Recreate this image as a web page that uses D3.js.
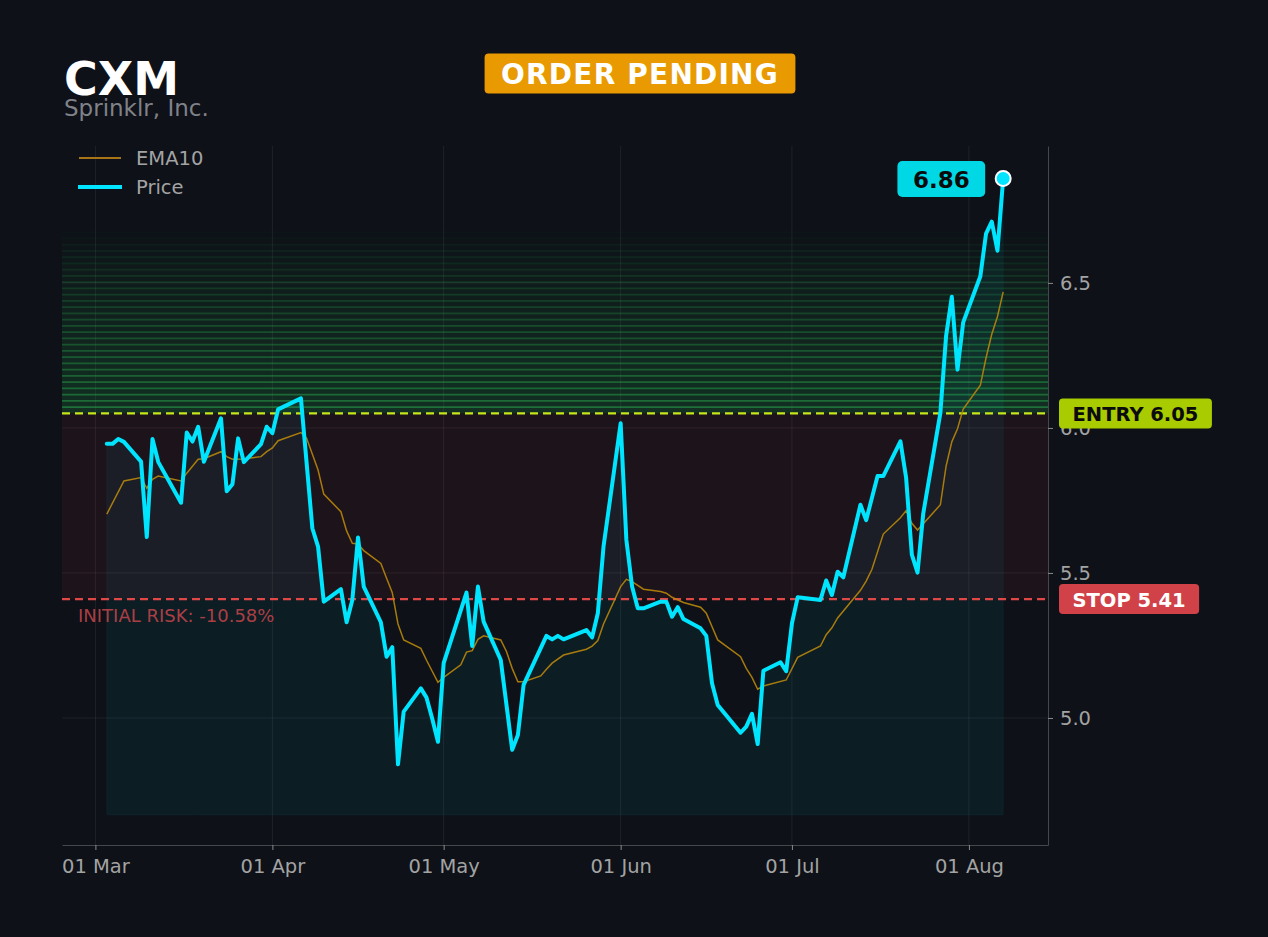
<!DOCTYPE html>
<html>
<head>
<meta charset="utf-8">
<script src="https://cdn.jsdelivr.net/npm/d3@7"></script>
<style>
  html, body { margin: 0; padding: 0; background: #0e1118; }
  svg { display: block; }
  text { font-family: "DejaVu Sans", sans-serif; }
</style>
</head>
<body>
<svg id="chart" width="1268" height="937"></svg>
<script>
// ---------- data ----------
const ticker = "CXM";
const companyName = "Sprinklr, Inc.";
const statusLabel = "ORDER PENDING";
const entryPrice = 6.05;
const stopPrice = 5.41;
const targetTop = 6.675;
const areaBase = 4.666;
const riskLabel = "INITIAL RISK: -10.58%";

const priceDates = ["2026-03-03","2026-03-04","2026-03-05","2026-03-06","2026-03-09","2026-03-10","2026-03-11","2026-03-12","2026-03-16","2026-03-17","2026-03-18","2026-03-19","2026-03-20","2026-03-23","2026-03-24","2026-03-25","2026-03-26","2026-03-27","2026-03-30","2026-03-31","2026-04-01","2026-04-02","2026-04-06","2026-04-08","2026-04-09","2026-04-10","2026-04-13","2026-04-14","2026-04-15","2026-04-16","2026-04-17","2026-04-20","2026-04-21","2026-04-22","2026-04-23","2026-04-24","2026-04-27","2026-04-28","2026-04-29","2026-04-30","2026-05-01","2026-05-05","2026-05-06","2026-05-07","2026-05-08","2026-05-11","2026-05-13","2026-05-14","2026-05-15","2026-05-19","2026-05-20","2026-05-21","2026-05-22","2026-05-26","2026-05-27","2026-05-28","2026-05-29","2026-06-01","2026-06-02","2026-06-03","2026-06-04","2026-06-05","2026-06-08","2026-06-09","2026-06-10","2026-06-11","2026-06-12","2026-06-15","2026-06-16","2026-06-17","2026-06-18","2026-06-22","2026-06-23","2026-06-24","2026-06-25","2026-06-26","2026-06-29","2026-06-30","2026-07-01","2026-07-02","2026-07-06","2026-07-07","2026-07-08","2026-07-09","2026-07-10","2026-07-13","2026-07-14","2026-07-16","2026-07-17","2026-07-20","2026-07-21","2026-07-22","2026-07-23","2026-07-24","2026-07-27","2026-07-28","2026-07-29","2026-07-30","2026-07-31","2026-08-03","2026-08-04","2026-08-05","2026-08-06","2026-08-07"];
const priceValues = [5.945,5.945,5.962,5.952,5.884,5.624,5.962,5.883,5.742,5.984,5.953,6.004,5.883,6.033,5.782,5.806,5.964,5.882,5.944,6.004,5.982,6.064,6.102,5.654,5.591,5.401,5.444,5.330,5.407,5.622,5.453,5.330,5.211,5.244,4.840,5.022,5.102,5.070,4.997,4.918,5.189,5.432,5.248,5.453,5.332,5.200,4.890,4.941,5.114,5.283,5.271,5.283,5.271,5.303,5.278,5.361,5.591,6.016,5.614,5.453,5.378,5.378,5.401,5.401,5.349,5.382,5.341,5.309,5.283,5.120,5.045,4.949,4.970,5.014,4.910,5.163,5.192,5.161,5.326,5.416,5.407,5.474,5.424,5.504,5.485,5.735,5.682,5.834,5.834,5.954,5.828,5.563,5.501,5.705,6.052,6.317,6.452,6.201,6.364,6.523,6.670,6.711,6.611,6.860];

const emaDates = ["2026-03-03","2026-03-06","2026-03-09","2026-03-10","2026-03-11","2026-03-12","2026-03-16","2026-03-17","2026-03-19","2026-03-20","2026-03-23","2026-03-24","2026-03-25","2026-03-27","2026-03-30","2026-03-31","2026-04-01","2026-04-02","2026-04-06","2026-04-07","2026-04-09","2026-04-10","2026-04-13","2026-04-14","2026-04-15","2026-04-16","2026-04-17","2026-04-20","2026-04-21","2026-04-22","2026-04-23","2026-04-24","2026-04-27","2026-04-28","2026-04-30","2026-05-01","2026-05-04","2026-05-05","2026-05-06","2026-05-07","2026-05-08","2026-05-11","2026-05-12","2026-05-13","2026-05-14","2026-05-15","2026-05-18","2026-05-19","2026-05-20","2026-05-22","2026-05-26","2026-05-27","2026-05-28","2026-05-29","2026-06-01","2026-06-02","2026-06-03","2026-06-05","2026-06-08","2026-06-09","2026-06-10","2026-06-12","2026-06-15","2026-06-16","2026-06-18","2026-06-22","2026-06-23","2026-06-24","2026-06-25","2026-06-26","2026-06-30","2026-07-02","2026-07-06","2026-07-07","2026-07-08","2026-07-09","2026-07-13","2026-07-14","2026-07-15","2026-07-17","2026-07-20","2026-07-21","2026-07-22","2026-07-23","2026-07-27","2026-07-28","2026-07-29","2026-07-30","2026-07-31","2026-08-03","2026-08-04","2026-08-05","2026-08-06","2026-08-07"];
const emaValues = [5.703,5.817,5.829,5.792,5.823,5.834,5.817,5.844,5.892,5.894,5.918,5.901,5.892,5.893,5.901,5.918,5.931,5.956,5.984,5.964,5.855,5.772,5.711,5.645,5.602,5.600,5.577,5.533,5.482,5.432,5.324,5.269,5.240,5.199,5.123,5.140,5.183,5.227,5.232,5.271,5.283,5.269,5.229,5.171,5.125,5.125,5.145,5.168,5.189,5.217,5.237,5.248,5.267,5.324,5.453,5.478,5.470,5.444,5.436,5.430,5.416,5.398,5.382,5.361,5.269,5.211,5.171,5.140,5.099,5.110,5.131,5.209,5.248,5.287,5.311,5.345,5.440,5.472,5.512,5.634,5.690,5.715,5.671,5.648,5.735,5.868,5.952,5.997,6.065,6.147,6.242,6.323,6.384,6.469];

const yTicks = [5.0, 5.5, 6.0, 6.5];
const xTickDates = ["2026-03-01","2026-04-01","2026-05-01","2026-06-01","2026-07-01","2026-08-01"];
const legendLabels = ["EMA10", "Price"];

// ---------- setup ----------
const W = 1268, H = 937;
const plot = { left: 62, right: 1048, top: 146, bottom: 845 };
const parse = d3.utcParse("%Y-%m-%d");

const price = priceDates.map((d, i) => ({ date: parse(d), value: priceValues[i] }));
const ema = emaDates.map((d, i) => ({ date: parse(d), value: emaValues[i] }));

const ext = d3.extent(price, d => d.date);
const pad = (ext[1] - ext[0]) * 0.05;
const x = d3.scaleUtc()
  .domain([new Date(+ext[0] - pad), new Date(+ext[1] + pad)])
  .range([plot.left, plot.right]);
const y = d3.scaleLinear().domain([4.562, 6.972]).range([plot.bottom, plot.top]);

const svg = d3.select("#chart");
svg.append("rect").attr("width", W).attr("height", H).attr("fill", "#0e1118");

const defs = svg.append("defs");
defs.append("clipPath").attr("id", "plotclip").append("rect")
  .attr("x", plot.left).attr("y", plot.top)
  .attr("width", plot.right - plot.left).attr("height", plot.bottom - plot.top);

const g = svg.append("g").attr("clip-path", "url(#plotclip)");

// gridlines
g.selectAll("line.hgrid").data(yTicks).join("line")
  .attr("x1", plot.left).attr("x2", plot.right)
  .attr("y1", d => y(d)).attr("y2", d => y(d))
  .attr("stroke", "#ffffff").attr("stroke-opacity", 0.07).attr("stroke-width", 1);
g.selectAll("line.vgrid").data(xTickDates.map(parse)).join("line")
  .attr("x1", d => x(d)).attr("x2", d => x(d))
  .attr("y1", plot.top).attr("y2", plot.bottom)
  .attr("stroke", "#ffffff").attr("stroke-opacity", 0.07).attr("stroke-width", 1);

// risk zone
g.append("rect")
  .attr("x", plot.left).attr("width", plot.right - plot.left)
  .attr("y", y(entryPrice)).attr("height", y(stopPrice) - y(entryPrice))
  .attr("fill", "#dc3838").attr("fill-opacity", 0.08);

// target zone stripes
const N = 29;
const step = (targetTop - entryPrice) / N;
const bands = d3.range(N).map(i => ({ lo: entryPrice + i * step, hi: entryPrice + (i + 1) * step, f: i / N }));
g.selectAll("rect.band").data(bands).join("rect")
  .attr("x", plot.left).attr("width", plot.right - plot.left)
  .attr("y", d => y(d.hi)).attr("height", d => y(d.lo) - y(d.hi))
  .attr("fill", "#22a84a").attr("fill-opacity", d => 0.2 * Math.pow(1 - d.f, 0.85));
g.selectAll("line.band").data(bands).join("line")
  .attr("x1", plot.left).attr("x2", plot.right)
  .attr("y1", d => y(d.hi)).attr("y2", d => y(d.hi))
  .attr("stroke", "#30c85a").attr("stroke-width", 1.8)
  .attr("stroke-opacity", d => 0.42 * Math.pow(1 - d.f, 0.85));

// price area
const area = d3.area().x(d => x(d.date)).y0(y(areaBase)).y1(d => y(d.value));
g.append("path").datum(price).attr("d", area)
  .attr("fill", "#00e5ff").attr("fill-opacity", 0.055)
  .attr("stroke", "#00e5ff").attr("stroke-opacity", 0.06);

// entry / stop lines
g.append("line").attr("x1", plot.left).attr("x2", plot.right)
  .attr("y1", y(entryPrice)).attr("y2", y(entryPrice))
  .attr("stroke", "#c8e61a").attr("stroke-width", 2.2).attr("stroke-dasharray", "8,5");
g.append("line").attr("x1", plot.left).attr("x2", plot.right)
  .attr("y1", y(stopPrice)).attr("y2", y(stopPrice))
  .attr("stroke", "#e04848").attr("stroke-width", 2.2).attr("stroke-dasharray", "8,5");

// EMA line
const line = d3.line().x(d => x(d.date)).y(d => y(d.value));
g.append("path").datum(ema).attr("d", line)
  .attr("fill", "none").attr("stroke", "#b8860b").attr("stroke-width", 1.5).attr("stroke-opacity", 0.9);

// price line
g.append("path").datum(price).attr("d", line)
  .attr("fill", "none").attr("stroke", "#00e5ff").attr("stroke-width", 4)
  .attr("stroke-linejoin", "round").attr("stroke-linecap", "round");

// risk text
svg.append("text").attr("x", 78).attr("y", 622)
  .attr("font-size", 18).attr("fill", "#c0444a").attr("fill-opacity", 0.9)
  .text(riskLabel);

// axes
const xAxis = d3.axisBottom(x).tickValues(xTickDates.map(parse))
  .tickFormat(d3.utcFormat("%d %b")).tickSize(5).tickSizeOuter(0).tickPadding(9);
const xg = svg.append("g").attr("transform", `translate(0,${plot.bottom})`).call(xAxis);
xg.select(".domain").attr("stroke", "#45474d");
xg.selectAll(".tick line").attr("stroke", "#8a8a8a");
xg.selectAll(".tick text").attr("fill", "#a3a3a3").attr("font-size", 19.5)
  .attr("font-family", "DejaVu Sans");

const yAxis = d3.axisRight(y).tickValues(yTicks).tickFormat(d3.format(".1f")).tickSize(5).tickSizeOuter(0).tickPadding(7);
const yg = svg.append("g").attr("transform", `translate(${plot.right},0)`).call(yAxis);
yg.select(".domain").attr("stroke", "#45474d");
yg.selectAll(".tick line").attr("stroke", "#8a8a8a");
yg.selectAll(".tick text").attr("fill", "#a3a3a3").attr("font-size", 19.5)
  .attr("font-family", "DejaVu Sans");

// badge helper
function badge(cx, cy, text, opts) {
  const grp = svg.append("g");
  const t = grp.append("text").attr("font-size", opts.size).attr("font-weight", "bold")
    .attr("fill", opts.color).attr("letter-spacing", opts.spacing || 0)
    .attr("dominant-baseline", "central").text(text);
  const bb = t.node().getBBox();
  let left;
  if (opts.anchor === "start") left = cx; else if (opts.anchor === "end") left = cx - bb.width - 2 * opts.padX; else left = cx - bb.width / 2 - opts.padX;
  t.attr("x", left + opts.padX).attr("y", cy + (opts.dy || 0));
  grp.insert("rect", "text")
    .attr("x", left).attr("y", cy - opts.h / 2)
    .attr("width", bb.width + 2 * opts.padX).attr("height", opts.h)
    .attr("rx", opts.rx).attr("fill", opts.bg);
  return grp;
}

badge(1059, y(entryPrice), `ENTRY ${entryPrice.toFixed(2)}`, { size: 19.5, color: "#0b0b0b", bg: "#a8cc00", padX: 13.5, h: 30, rx: 4, anchor: "start", dy: 1 });
badge(1059, y(stopPrice), `STOP ${stopPrice.toFixed(2)}`, { size: 19.5, color: "#ffffff", bg: "#d04248", padX: 13.5, h: 30, rx: 4, anchor: "start", dy: 1 });

// last price marker
const last = price[price.length - 1];
badge(x(last.date) - 18, y(last.value) + 0.5, last.value.toFixed(2), { size: 23, color: "#0b0b0b", bg: "#00d8e6", padX: 15.5, h: 36, rx: 5, anchor: "end", dy: 1 });
svg.append("circle").attr("cx", x(last.date)).attr("cy", y(last.value)).attr("r", 7.5)
  .attr("fill", "#00e5ff").attr("stroke", "#ffffff").attr("stroke-width", 2);

// status badge
badge(640, 73.5, statusLabel, { size: 28, color: "#ffffff", bg: "#e89a00", padX: 16.5, h: 40, rx: 4, anchor: "middle", spacing: 1.2, dy: 1 });

// title
svg.append("text").attr("x", 64).attr("y", 95).attr("font-size", 46).attr("font-weight", "bold")
  .attr("fill", "#ffffff").text(ticker);
svg.append("text").attr("x", 64).attr("y", 116).attr("font-size", 23)
  .attr("fill", "#808289").text(companyName);

// legend
const lg = svg.append("g");
lg.append("line").attr("x1", 79).attr("x2", 121).attr("y1", 158).attr("y2", 158)
  .attr("stroke", "#a87416").attr("stroke-width", 2);
lg.append("line").attr("x1", 78).attr("x2", 122).attr("y1", 187).attr("y2", 187)
  .attr("stroke", "#00e5ff").attr("stroke-width", 4);
lg.selectAll("text").data(legendLabels).join("text")
  .attr("x", 136).attr("y", (d, i) => 158 + i * 29)
  .attr("dominant-baseline", "central")
  .attr("font-size", 19.5).attr("fill", "#a3a3a3").text(d => d);
</script>
</body>
</html>
